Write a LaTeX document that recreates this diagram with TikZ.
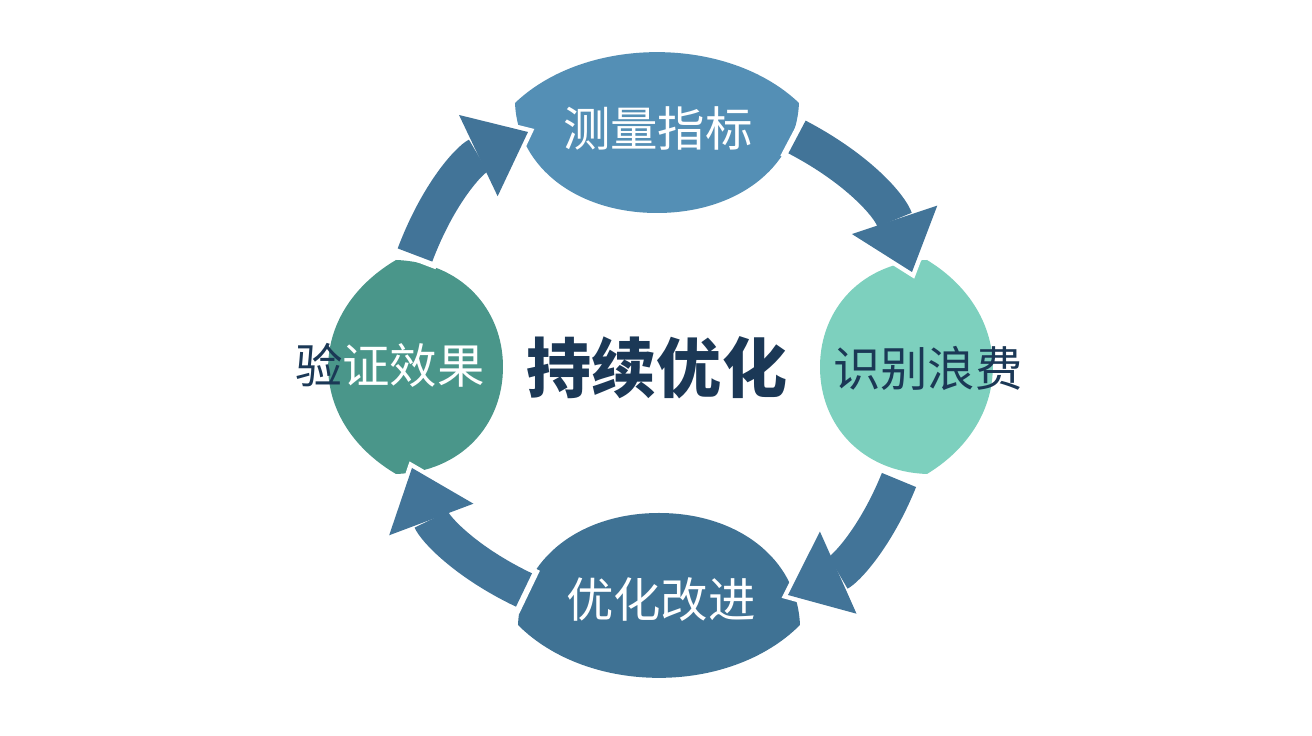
\documentclass[tikz,border=0pt]{standalone}
\usepackage{fontspec}
\newfontfamily\cjk{Noto Sans CJK SC}
\usetikzlibrary{arrows.meta}

\definecolor{measureblue}{HTML}{548FB5}
\definecolor{wastegreen}{HTML}{7DD0BE}
\definecolor{improveblue}{HTML}{3F7294}
\definecolor{verifyteal}{HTML}{4A968A}
\definecolor{flowblue}{HTML}{427498}
\definecolor{inkblue}{HTML}{1B3856}

% petal: centre x, centre y, rotation, half length, outer bulge, inner bulge, colour
\newcommand{\petal}[7]{%
  \fill[#7,shift={(#1,#2)},rotate=#3] (-#4,0)
    .. controls ({-0.5*#4},{1.33*#5}) and ({0.5*#4},{1.33*#5}) .. (#4,0)
    .. controls ({0.98*#4},{-0.6*#6}) and ({0.55*#4},-#6) .. (0,-#6)
    .. controls ({-0.55*#4},-#6) and ({-0.98*#4},{-0.6*#6}) .. cycle;}

\tikzset{
  flow/.style={draw=flowblue, line width=0.74cm,
    -{Triangle[width=1.8cm,length=1.1cm,line width=0pt]}},
  flowgap/.style={draw=white, line width=0.97cm,
    -{Triangle[width=2.3cm,length=1.4cm,line width=0pt]},
    shorten >=-0.14cm, shorten <=-0.12cm},
  tag/.style={font=\cjk\fontsize{27}{30}\selectfont, inner sep=0pt},
}

\begin{document}
\begin{tikzpicture}[x=0.02cm,y=0.02cm]
  \useasboundingbox (-656,-368) rectangle (656,368);
  \fill[white] (-656,-368) rectangle (656,368);

  \petal{1}{265}{0}{142}{51}{110}{measureblue}
  \petal{271}{1}{-90}{107}{66}{107}{wastegreen}
  \petal{3}{-257}{180}{141}{53}{112}{improveblue}
  \petal{-260}{1}{90}{107}{68}{107}{verifyteal}

  \coordinate (m-out) at (141,231);
  \coordinate (w-in) at (256,96);
  \coordinate (w-out) at (243,-112);
  \coordinate (i-in) at (132,-227);
  \coordinate (i-out) at (-132,-222);
  \coordinate (v-in) at (-244,-100);
  \coordinate (v-out) at (-241,113);
  \coordinate (m-in) at (-128,236);
  \foreach \a/\b in {m-out/w-in,w-out/i-in,i-out/v-in,v-out/m-in}{
    \draw[flowgap] (\a) to[bend left=22] (\b);
    \draw[flow] (\a) to[bend left=22] (\b);
  }

  \node[tag,white] (measure) at (2,240) {测量指标};
  \node[tag,inkblue] (waste) at (272,0) {识别浪费};
  \node[tag,white] (improve) at (5,-232) {优化改进};
  \node[tag,white] (verify) at (-266,3) {{\color{inkblue}验}证效果};
  \node[font=\cjk\bfseries\fontsize{37}{40}\selectfont,inkblue,inner sep=0pt] (core) at (1,0) {持续优化};
\end{tikzpicture}
\end{document}
